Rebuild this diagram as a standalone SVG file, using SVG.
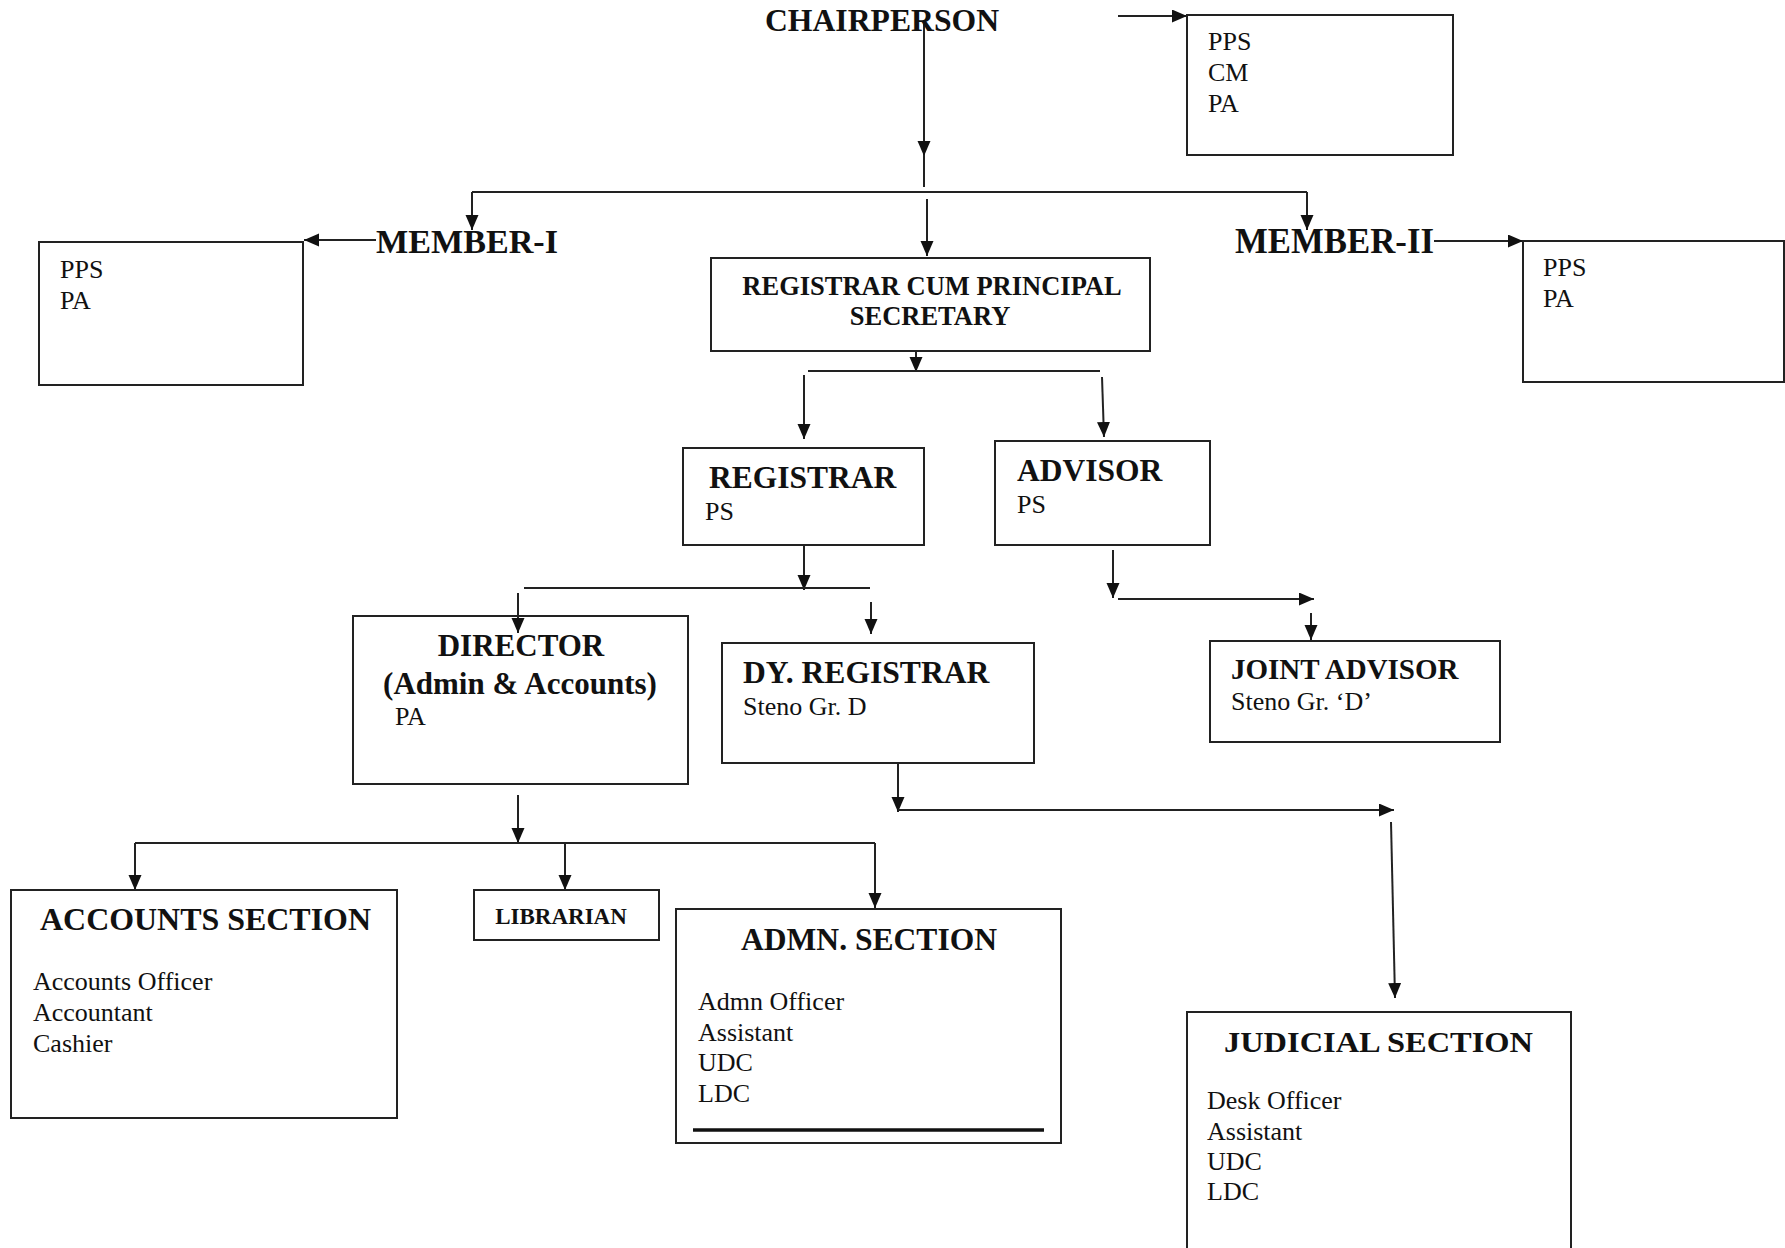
<svg xmlns="http://www.w3.org/2000/svg" width="1785" height="1248" viewBox="0 0 1785 1248">
<defs>
<marker id="ah" markerUnits="userSpaceOnUse" markerWidth="16" markerHeight="14" refX="15" refY="6.5" orient="auto">
<path d="M0,0 L15,6.5 L0,13 z" fill="#111"/>
</marker>
<style>
.box{fill:none;stroke:#222;stroke-width:2}
.ln{fill:none;stroke:#222;stroke-width:2}
.ar{fill:none;stroke:#222;stroke-width:2;marker-end:url(#ah)}
.t{font-family:"Liberation Serif","Times New Roman",serif;fill:#111}
.b{font-weight:bold}
.r{font-size:26px}
</style>
</defs>
<rect width="1785" height="1248" fill="#fff"/>
<g id="connectors">
<line class="ar" x1="1118" y1="16" x2="1187" y2="16"/>
<line class="ar" x1="924" y1="24" x2="924" y2="156"/>
<line class="ln" x1="924" y1="155" x2="924" y2="187"/>
<line class="ln" x1="472" y1="192" x2="1307" y2="192"/>
<line class="ar" x1="472" y1="192" x2="472" y2="230"/>
<line class="ar" x1="1307" y1="192" x2="1307" y2="230"/>
<line class="ar" x1="927" y1="199" x2="927" y2="256"/>
<line class="ar" x1="376" y1="240" x2="304" y2="240"/>
<line class="ar" x1="1434" y1="241" x2="1523" y2="241"/>
<line class="ar" x1="916" y1="352" x2="916" y2="372"/>
<line class="ln" x1="808" y1="371" x2="1100" y2="371"/>
<line class="ar" x1="804" y1="375" x2="804" y2="439"/>
<line class="ar" x1="1102" y1="377" x2="1104" y2="437"/>
<line class="ar" x1="804" y1="545" x2="804" y2="590"/>
<line class="ln" x1="524" y1="588" x2="870" y2="588"/>
<line class="ar" x1="518" y1="593" x2="518" y2="633"/>
<line class="ar" x1="871" y1="602" x2="871" y2="634"/>
<line class="ar" x1="1113" y1="550" x2="1113" y2="598"/>
<line class="ar" x1="1118" y1="599" x2="1314" y2="599"/>
<line class="ar" x1="1311" y1="613" x2="1311" y2="640"/>
<line class="ar" x1="898" y1="763" x2="898" y2="812"/>
<line class="ar" x1="898" y1="810" x2="1394" y2="810"/>
<line class="ar" x1="1391" y1="822" x2="1395" y2="998"/>
<line class="ar" x1="518" y1="795" x2="518" y2="843"/>
<line class="ln" x1="135" y1="843" x2="875" y2="843"/>
<line class="ar" x1="135" y1="843" x2="135" y2="890"/>
<line class="ar" x1="565" y1="843" x2="565" y2="890"/>
<line class="ar" x1="875" y1="843" x2="875" y2="908"/>
</g>
<g id="chairperson">
<text class="t b" x="765" y="31" font-size="32" textLength="234" lengthAdjust="spacingAndGlyphs">CHAIRPERSON</text>
</g>
<g id="chair-staff">
<rect class="box" x="1187" y="15" width="266" height="140"/>
<text class="t r" x="1208" y="50">PPS</text>
<text class="t r" x="1208" y="81">CM</text>
<text class="t r" x="1208" y="112">PA</text>
</g>
<g id="member1">
<text class="t b" x="376" y="253" font-size="34" textLength="182" lengthAdjust="spacingAndGlyphs">MEMBER-I</text>
</g>
<g id="member1-staff">
<rect class="box" x="39" y="242" width="264" height="143"/>
<text class="t r" x="60" y="278">PPS</text>
<text class="t r" x="60" y="309">PA</text>
</g>
<g id="member2">
<text class="t b" x="1235" y="253" font-size="35" textLength="199" lengthAdjust="spacingAndGlyphs">MEMBER-II</text>
</g>
<g id="member2-staff">
<rect class="box" x="1523" y="241" width="261" height="141"/>
<text class="t r" x="1543" y="276">PPS</text>
<text class="t r" x="1543" y="307">PA</text>
</g>
<g id="registrar-cum-ps">
<rect class="box" x="711" y="258" width="439" height="93"/>
<text class="t b" x="932" y="295" font-size="26.5" text-anchor="middle">REGISTRAR CUM PRINCIPAL</text>
<text class="t b" x="930" y="325" font-size="26.5" text-anchor="middle">SECRETARY</text>
</g>
<g id="registrar">
<rect class="box" x="683" y="448" width="241" height="97"/>
<text class="t b" x="709" y="488" font-size="31.5">REGISTRAR</text>
<text class="t r" x="705" y="520">PS</text>
</g>
<g id="advisor">
<rect class="box" x="995" y="441" width="215" height="104"/>
<text class="t b" x="1017" y="481" font-size="31.5">ADVISOR</text>
<text class="t r" x="1017" y="513">PS</text>
</g>
<g id="director">
<rect class="box" x="353" y="616" width="335" height="168"/>
<text class="t b" x="521" y="656" font-size="31" text-anchor="middle">DIRECTOR</text>
<text class="t b" x="520" y="694" font-size="31" text-anchor="middle">(Admin &amp; Accounts)</text>
<text class="t r" x="395" y="725">PA</text>
</g>
<g id="dy-registrar">
<rect class="box" x="722" y="643" width="312" height="120"/>
<text class="t b" x="743" y="683" font-size="31.6">DY. REGISTRAR</text>
<text class="t r" x="743" y="715">Steno Gr. D</text>
</g>
<g id="joint-advisor">
<rect class="box" x="1210" y="641" width="290" height="101"/>
<text class="t b" x="1231" y="679" font-size="29">JOINT ADVISOR</text>
<text class="t r" x="1231" y="710">Steno Gr. ‘D’</text>
</g>
<g id="accounts-section">
<rect class="box" x="11" y="890" width="386" height="228"/>
<text class="t b" x="40" y="930" font-size="31" textLength="331" lengthAdjust="spacingAndGlyphs">ACCOUNTS SECTION</text>
<text class="t r" x="33" y="990">Accounts Officer</text>
<text class="t r" x="33" y="1021">Accountant</text>
<text class="t r" x="33" y="1052">Cashier</text>
</g>
<g id="librarian">
<rect class="box" x="474" y="890" width="185" height="50"/>
<text class="t b" x="561" y="924" font-size="23" text-anchor="middle">LIBRARIAN</text>
</g>
<g id="admn-section">
<rect class="box" x="676" y="909" width="385" height="234"/>
<text class="t b" x="741" y="950" font-size="31" textLength="256" lengthAdjust="spacingAndGlyphs">ADMN. SECTION</text>
<text class="t r" x="698" y="1010">Admn Officer</text>
<text class="t r" x="698" y="1041">Assistant</text>
<text class="t r" x="698" y="1071">UDC</text>
<text class="t r" x="698" y="1102">LDC</text>
<line x1="693" y1="1130" x2="1044" y2="1130" stroke="#111" stroke-width="3.5"/>
</g>
<g id="judicial-section">
<rect class="box" x="1187" y="1012" width="384" height="250"/>
<text class="t b" x="1224" y="1052" font-size="30" textLength="309" lengthAdjust="spacingAndGlyphs">JUDICIAL SECTION</text>
<text class="t r" x="1207" y="1109">Desk Officer</text>
<text class="t r" x="1207" y="1140">Assistant</text>
<text class="t r" x="1207" y="1170">UDC</text>
<text class="t r" x="1207" y="1200">LDC</text>
</g>
</svg>
